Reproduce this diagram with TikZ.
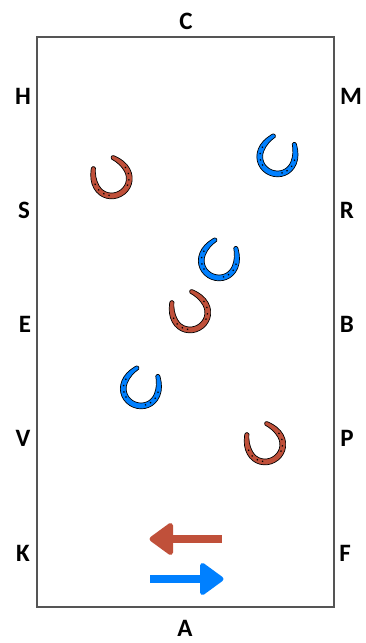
\documentclass[tikz,border=0pt]{standalone}
\usepackage{fontspec}
\setmainfont{Carlito}
\definecolor{shoered}{HTML}{C0503A}
\definecolor{shoeblue}{HTML}{0080FF}
\definecolor{framegray}{HTML}{555555}
\newcommand{\shoepath}{(-13.8,17.2) .. controls (-17.9,11.5) and (-20.4,6) .. (-20.4,-0.5) .. controls (-20.4,-12.5) and (-11,-20.8) .. (0,-20.8) .. controls (11,-20.8) and (20.4,-12.5) .. (20.4,-0.5) .. controls (20.4,6) and (17.9,11.5) .. (13.8,17.2) .. controls (12.4,19.8) and (9.4,19.8) .. (9.2,16.6) .. controls (12.4,11.5) and (14.6,6) .. (14.6,-0.5) .. controls (14.6,-9) and (8,-15) .. (0,-15) .. controls (-8,-15) and (-14.6,-9) .. (-14.6,-0.5) .. controls (-14.6,6) and (-12.4,11.5) .. (-9.2,16.6) .. controls (-9.4,19.8) and (-12.4,19.8) .. (-13.8,17.2) -- cycle}
\tikzset{
  letter/.style={font=\fontsize{25}{27}\selectfont\bfseries, inner sep=0pt, anchor=center},
  shoe/.pic={
    \filldraw[draw=black, line width=0.7pt, line join=round, fill=shoefill] \shoepath;
    \foreach \a in {8,-14,-35,-53,172,194,215,233}
      \fill[black] (\a:17.5) circle (0.9);
  },
  headshape/.style={line width=5pt, line join=round},
}
\begin{document}
\begin{tikzpicture}[x=1pt,y=1pt]
\useasboundingbox (0,0) rectangle (366,643);
\draw[framegray, line width=1.4pt] (37,36) rectangle (334,606);
% letters
\node[letter] (c) at (186,622) {C};
\node[letter] (a) at (185,15) {A};
\node[letter] (h) at (23,547) {H};
\node[letter] (m) at (351,547) {M};
\node[letter] (s) at (24,433) {S};
\node[letter] (r) at (347,433) {R};
\node[letter] (e) at (25,319) {E};
\node[letter] (b) at (347,319) {B};
\node[letter] (v) at (23,205) {V};
\node[letter] (p) at (347,205) {P};
\node[letter] (k) at (23,90) {K};
\node[letter] (f) at (345,90) {F};
% horseshoes
\colorlet{shoefill}{shoered}
\pic[rotate=29] at (111.5,465) {shoe};
\pic[rotate=29] at (190,331) {shoe};
\pic[rotate=29] at (265,199) {shoe};
\colorlet{shoefill}{shoeblue}
\pic[rotate=-22] at (277.5,487) {shoe};
\pic[rotate=-22] at (219,383) {shoe};
\pic[rotate=-22] at (141,255) {shoe};
% arrows
\filldraw[shoered, headshape] (152,104) -- (170.5,117.5) -- (170.5,90.5) -- cycle;
\fill[shoered] (170,100) rectangle (222,108);
\filldraw[shoeblue, headshape] (221,64) -- (202.5,77.5) -- (202.5,50.5) -- cycle;
\fill[shoeblue] (150,60) rectangle (204,68);
\end{tikzpicture}
\end{document}
